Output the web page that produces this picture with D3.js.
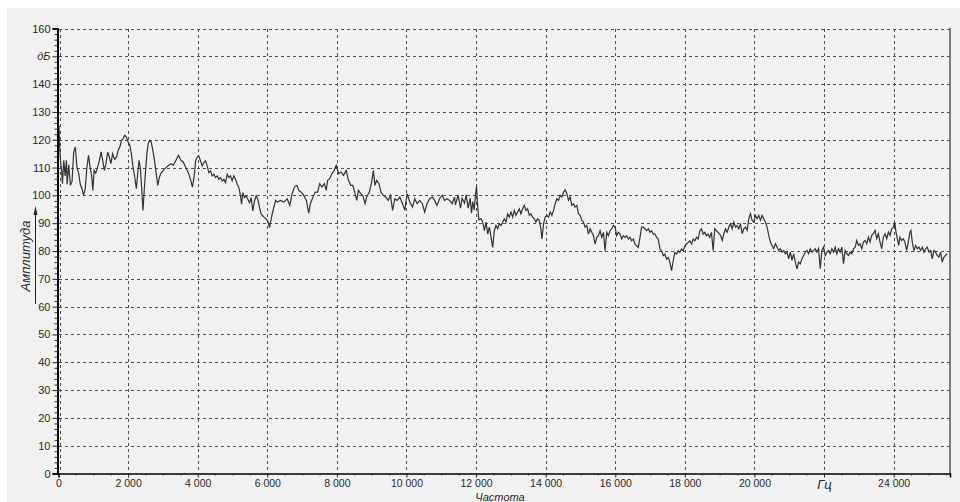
<!DOCTYPE html>
<html><head><meta charset="utf-8">
<script src="https://cdn.jsdelivr.net/npm/d3@7"></script>
<style>
html,body{margin:0;padding:0;background:#ffffff;}
svg{display:block;}
text{font-family:"Liberation Sans",Arial,sans-serif;fill:#2a2a2a;}
</style></head><body>
<svg id="chart" width="960" height="502"></svg>
<script>
// ---- data (frequency Hz, amplitude dB) ----
const spectrum = [
[0,118],[15,125],[30,118],[57,112.6],[90,109],[114,104.2],[152,112.6],[190,107],[228,112.6],[246,104],[294,111],[341,103.6],[389,105],[436,115.6],[483,117.4],[531,110],[578,108],[626,104],[673,102.4],[720,100],[768,102.4],[815,110],[863,114.4],[910,110],[957,106.6],[986,101.8],[1024,109],[1071,108],[1119,110],[1176,112.6],[1223,115.6],[1270,112.6],[1318,109],[1365,111.4],[1413,115.6],[1460,113.8],[1507,111.4],[1555,115],[1612,113],[1668,113.8],[1716,116.2],[1763,117.4],[1811,119.8],[1858,120.4],[1905,121.6],[1953,121],[2000,119.2],[2048,118],[2095,115],[2142,110],[2190,106.6],[2237,102.4],[2285,109],[2313,112.6],[2351,110],[2389,103],[2427,94.6],[2465,102],[2503,109],[2541,115],[2579,118.6],[2617,119.8],[2664,119.2],[2711,116.2],[2759,112.6],[2806,108],[2853,103.6],[2901,106.6],[2948,108],[3015,109],[3090,110],[3166,110.8],[3233,111.4],[3299,110.8],[3375,112.6],[3451,114.4],[3517,112.6],[3583,112],[3659,110],[3735,108],[3801,105.4],[3849,103],[3896,106.6],[3944,112.6],[3991,113.8],
[4033,114.2],[4081,112.4],[4129,110.6],[4177,111.8],[4225,112.4],[4273,110.6],[4321,108.2],[4369,108.8],[4417,107],[4465,107.6],[4512,106.4],[4560,107],[4608,105.8],[4656,106.4],[4704,105.2],[4752,105.8],[4800,104.6],[4848,107.6],[4896,106.4],[4944,107],[4991,105.2],[5039,107],[5087,105.8],[5135,104],[5183,102.8],[5231,99.8],[5260,96.8],[5298,101],[5346,99.2],[5394,99.8],[5442,98.6],[5490,97.4],[5537,99.2],[5585,94.4],[5633,98],[5681,99.8],[5729,98.6],[5777,95.6],[5825,93.2],[5873,92.6],[5921,92],[5969,91.4],[6016,90.8],[6064,88.4],
[6143,93.4],[6238,98.2],[6286,97.6],[6381,98.2],[6476,97.6],[6571,98.8],[6648,96.4],[6714,100.6],[6781,103],[6857,103.6],[6905,101.8],[6971,101.2],[7048,100],[7124,98.2],[7190,93.6],[7238,97],[7314,99.4],[7381,101.2],[7448,101.2],[7505,104.2],[7571,103],[7638,104.2],[7695,101.8],[7733,105.4],[7790,106],[7857,107.8],[7924,109],[7981,110.8],[8048,107.8],[8114,108.4],[8190,107.2],[8267,109],[8333,105.4],[8400,103.6],[8457,103.6],[8524,100.6],[8571,98.2],[8619,101.8],[8686,100.6],[8743,100],[8810,97],[8857,99.4],[8933,101.2],[9000,104.8],[9048,109],[9095,103.6],[9143,105.4],[9210,104.2],[9267,101.2],[9333,100],[9400,99.4],[9476,98.2],[9543,100],[9600,94.6],[9667,98.8],[9733,98.2],[9810,99.4],[9886,97],[9952,94.6],[10019,100.6],[10095,97.6],[10171,95.8],[10238,98.8],[10305,97],[10381,98.2],[10457,97],[10524,94],[10590,97],[10667,98.8],[10743,99.4],[10810,98.2],[10876,96.4],[10952,98.8],[11029,100],[11095,98.2],[11162,98.8],[11238,98.2],[11314,97],[11381,99.4],
[11408,96.6],[11485,100.2],[11552,95.4],[11600,99],[11667,97.2],[11715,100.2],[11773,95.4],[11830,99],[11869,93.6],[11907,97.8],[11946,94.8],[11984,100.2],[12013,103.2],[12042,96.6],[12080,91.2],
[12143,91.6],[12191,90.4],[12239,87.3],[12287,90.4],[12334,86.1],[12382,88.6],[12430,85],[12478,81.3],[12525,87.3],[12573,89.2],[12621,88],[12669,89.8],[12717,89.2],[12764,90.4],[12812,91.6],[12860,90.4],[12908,93.4],[12955,92.2],[13003,94],[13051,92.2],[13099,94.6],[13147,92.8],[13194,94],[13242,95.2],[13290,93.4],[13338,95.2],[13385,96.4],[13433,94.6],[13481,95.2],[13529,92.8],[13577,93.4],[13624,92.2],[13672,91.6],[13720,90.4],[13768,91.6],[13815,91],[13863,88],[13892,84.3],[13940,89.8],[13987,92.2],[14035,92.8],[14083,92.2],[14131,94],[14179,92.8],[14226,94.6],[14274,97],[14322,98.8],[14370,98.2],[14417,100],[14465,99.4],[14513,101.2],[14561,102],[14609,100.6],[14656,98.2],[14704,99.4],[14752,96.4],[14800,97],[14847,95.8],[14895,96.4],[14943,93.4],[14991,92.8],[15039,91],[15086,90.4],[15134,88.6],[15182,89.2],[15230,86.1],[15278,88],[15325,86.7],[15373,85.5],[15421,82.5],[15469,84.9],[15516,85.5],[15564,87.3],[15612,84.9],[15660,86.7],[15707,80.1],[15755,86.7],[15803,85.5],[15851,87.3],[15899,88],[15946,89.2],[15994,88.6],[16042,85.5],[16090,86.7],[16137,86.1],[16185,84.3],[16233,85.5],[16281,84.9],[16328,85.5],[16376,84.3],[16424,84.9],[16472,83.7],[16520,84.3],[16567,82.5],[16615,81.9],[16663,81.3],[16711,84.9],[16758,88.6],[16806,88.6],[16854,88],[16902,87.3],[16950,88],[16997,86.7],[17045,87.3],[17093,86.1],[17141,86.1],[17188,84.9],[17236,84.3],[17284,80.7],[17332,80.1],[17380,78.3],[17427,78.9],[17475,77.1],[17523,77.7],[17571,75.9],[17618,72.9],[17666,76.5],[17714,79.5],[17762,78.9],[17810,80.1],[17857,79.5],[17905,80.7],[17953,80.1],[18001,81.9],[18049,82.5],[18096,83.1],[18144,83.7],[18192,82.5],[18240,84.3],[18287,83.7],[18335,84.9],[18383,84.3],[18431,87.3],[18478,88],[18526,86.1],[18574,86.7],[18622,85.5],[18669,86.1],[18717,84.9],[18765,86.7],[18813,80.1],[18860,88],[18908,87.3],
[19026,85.6],[19074,83.8],[19121,86.2],[19169,88],[19217,86.8],[19265,88.6],[19312,89.8],[19360,88],[19408,90.4],[19456,88.6],[19503,89.2],[19551,88],[19599,89.8],[19647,86.2],[19694,88],[19742,88.6],[19790,87.4],[19838,91.6],[19885,93.4],[19933,91],[19981,90.4],[20029,92.8],[20076,91.6],[20124,92.8],[20172,91],[20220,92.8],[20267,91.6],[20315,90.4],[20363,88.6],[20411,85.6],[20458,83.2],[20506,82],[20554,80.8],[20602,82.6],[20649,81.4],[20697,80.2],[20745,80.8],[20793,79.6],[20840,80.2],[20888,79],[20936,79.6],[20984,77.2],[21031,79.6],[21079,76.6],[21127,79],[21175,76],[21222,73.6],[21270,76],[21318,75.4],[21366,77.2],[21413,78.4],[21461,79.6],[21509,80.2],[21557,79],[21604,80.8],[21652,79.6],[21700,80.2],[21748,80.8],[21795,79.6],[21843,80.8],[21891,73.6],[21939,80.2],[21986,81.4],[22034,78.4],[22082,79.6],[22130,80.2],[22177,79],[22225,80.8],[22273,79.6],[22321,81.4],[22368,79],[22416,80.8],[22464,79.6],[22512,81.4],[22559,75.4],[22607,80.2],[22655,79],[22703,78.4],[22750,79.6],[22798,79],[22846,80.8],[22894,81.4],[22941,83.8],[22989,82],[23037,82.6],[23085,80.8],[23132,83.2],[23180,83.8],[23228,82.6],[23276,85],[23323,83.2],[23371,85.6],[23419,86.2],[23467,87.4],[23514,84.4],[23562,86.2],[23610,83.2],[23658,80.8],[23705,85],[23753,86.2],[23801,84.4],[23849,86.8],[23896,85.6],[23944,88],[23992,88.6],[24030,90.4],[24068,86.8],[24107,84.4],[24145,82],[24183,85],[24231,83.8],[24278,84.4],[24326,83.2],[24374,80.2],[24422,83.2],[24469,86.8],[24498,87.4],[24536,83.2],[24584,80.2],[24632,82],[24680,80.8],[24727,81.4],[24775,80.2],[24823,81.4],[24871,79.6],[24918,80.8],[24966,81.4],[25014,79.6],[25062,80.2],[25109,77.2],[25157,80.2],[25205,79.6],[25253,78.4],[25300,77.8],[25348,79.6],[25396,76],[25444,77.8],[25491,78.4],[25539,79]
];
const yTickValues = [0,10,20,30,40,50,60,70,80,90,100,110,120,130,140,150,160];
const yTickLabels = ["0","10","20","30","40","50","60","70","80","90","100","110","120","130","140","дБ","160"];
const xTickValues = [0,2000,4000,6000,8000,10000,12000,14000,16000,18000,20000,22000,24000];
const xTickLabels = ["0","2 000","4 000","6 000","8 000","10 000","12 000","14 000","16 000","18 000","20 000","Гц","24 000"];
const xTitle = "Частота";
const yTitle = "Амплитуда";
const xMax = 25620, yMin = 0, yMax = 160;

// ---- drawing ----
const svg = d3.select("#chart");
const L = 58.5, R = 950, T = 28.5, B = 473.5;
const x = d3.scaleLinear().domain([0, xMax]).range([L, R]);
const y = d3.scaleLinear().domain([yMin, yMax]).range([B, T]);

svg.append("rect").attr("x",7).attr("y",8).attr("width",953).attr("height",494).attr("fill","#f1f1f1");

// grid
const grid = svg.append("g").attr("stroke","#4e4e4e").attr("stroke-width",1).attr("stroke-dasharray","3,3").attr("shape-rendering","crispEdges");
grid.selectAll("line.h").data(yTickValues.filter(v=>v>0)).enter().append("line")
  .attr("x1",L).attr("x2",R).attr("y1",d=>Math.round(y(d))+0.5).attr("y2",d=>Math.round(y(d))+0.5);
grid.selectAll("line.v").data(xTickValues).enter().append("line")
  .attr("x1",d=>Math.round(x(d))+ (d===0?1:0) +0.5).attr("x2",d=>Math.round(x(d))+(d===0?1:0)+0.5)
  .attr("y1",T).attr("y2",B);

// curve
const line = d3.line().x(d=>x(d[0])).y(d=>y(d[1]));
svg.append("path").datum(spectrum).attr("d",line).attr("fill","none")
  .attr("stroke","#333").attr("stroke-width",1.2).attr("stroke-linejoin","miter");

// right border
svg.append("line").attr("x1",R).attr("x2",R).attr("y1",T-0.5).attr("y2",B)
  .attr("stroke","#555").attr("stroke-width",1.5);

// axes
const yAxis = d3.axisLeft(y).tickValues(yTickValues).tickSize(5).tickPadding(2)
  .tickFormat((d,i)=>yTickLabels[i]);
const gy = svg.append("g").attr("transform",`translate(${L-1},0)`).call(yAxis);
gy.select(".domain").attr("stroke","#000").attr("stroke-width",2);
gy.selectAll(".tick line").attr("stroke","#222");
gy.selectAll(".tick text").attr("font-size",11).attr("fill","#2a2a2a")
  .attr("font-family","'Liberation Sans',Arial,sans-serif")
  .attr("font-style",(d,i)=>yTickLabels[i]==="дБ"?"italic":"normal");
// minor y ticks
const gyMinor = d3.axisLeft(y).tickValues(d3.range(0,161,2).filter(v=>v%10!==0)).tickSize(3).tickFormat("");
svg.append("g").attr("transform",`translate(${L-1},0)`).call(gyMinor)
  .call(g=>g.select(".domain").remove()).selectAll("line").attr("stroke","#333");

const xAxis = d3.axisBottom(x).tickValues(xTickValues).tickSize(4).tickPadding(2)
  .tickFormat((d,i)=>xTickLabels[i]);
const gx = svg.append("g").attr("transform",`translate(0,${B})`).call(xAxis);
gx.select(".domain").attr("stroke","#000").attr("stroke-width",1.5);
gx.selectAll(".tick line").attr("stroke","#222");
gx.selectAll(".tick text").attr("font-size",(d,i)=>xTickLabels[i]==="Гц"?13:10.5).attr("fill","#2a2a2a")
  .attr("font-family","'Liberation Sans',Arial,sans-serif")
  .attr("font-style",(d,i)=>xTickLabels[i]==="Гц"?"italic":"normal");
const gxMinor = d3.axisBottom(x).tickValues(d3.range(500,xMax,500).filter(v=>v%2000!==0)).tickSize(2).tickFormat("");
svg.append("g").attr("transform",`translate(0,${B})`).call(gxMinor)
  .call(g=>g.select(".domain").remove()).selectAll("line").attr("stroke","#333");

// titles
svg.append("text").attr("x",500).attr("y",500.5).attr("text-anchor","middle")
  .attr("font-size",11).attr("font-style","italic").text(xTitle);
svg.append("text").attr("transform","translate(30,256) rotate(-90)").attr("text-anchor","middle")
  .attr("font-size",13).attr("font-style","italic").text(yTitle);
// arrow next to y title
svg.append("line").attr("x1",35.5).attr("x2",35.5).attr("y1",304).attr("y2",209)
  .attr("stroke","#222").attr("stroke-width",1);
svg.append("path").attr("d","M35.5,206 L33.5,215 L37.5,215 Z").attr("fill","#222");
</script>
</body></html>
